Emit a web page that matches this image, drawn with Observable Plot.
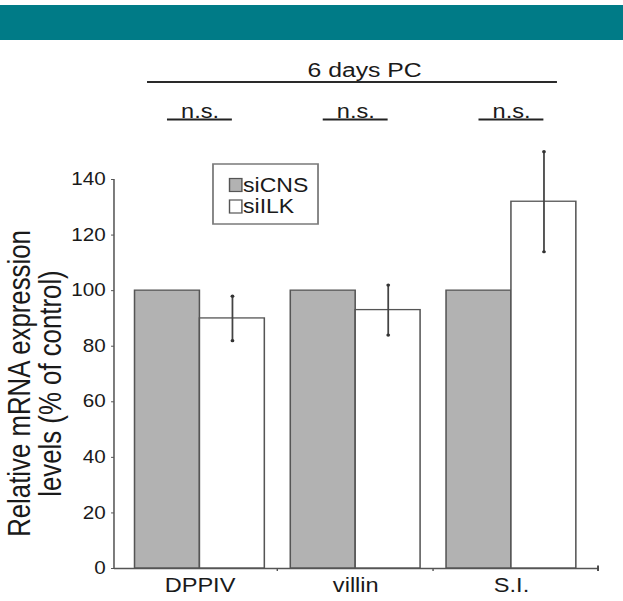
<!DOCTYPE html>
<html><head><meta charset="utf-8">
<script src="https://cdn.jsdelivr.net/npm/d3@7"></script>
<script src="https://cdn.jsdelivr.net/npm/@observablehq/plot@0.6"></script>
<style>
html,body{margin:0;padding:0;background:#fff;overflow:hidden;}
#banner{margin-top:5px;height:35px;width:623px;background:#007b87;}
#chart svg{display:block;transform:scaleX(1.18);transform-origin:0 0;}
</style></head><body>
<div id="banner"></div>
<div id="chart"></div>
<script>
// ---- data ----
const genes = ["DPPIV", "villin", "S.I."];
const groups = ["siCNS", "siILK"];
const siCNS = [100, 100, 100];
const siILK = [90, 93, 132];
const siILKErr = [8, 9, 18];
const yTicks = [0, 20, 40, 60, 80, 100, 120, 140];
const significance = ["n.s.", "n.s.", "n.s."];
const timepoint = "6 days PC";
const yLabel = "Relative mRNA expression\nlevels (% of control)";
const groupColors = ["#b2b2b2", "#ffffff"];

const rows = [];
genes.forEach((g, i) => {
  rows.push({gene: g, group: "siCNS", value: siCNS[i], err: 0});
  rows.push({gene: g, group: "siILK", value: siILK[i], err: siILKErr[i]});
});
const sig = genes.map((g, i) => ({gene: g, label: significance[i]}));

const FONT = "Liberation Sans, Arial, Helvetica, sans-serif";
const INK = "#1a1a1a";

const chart = Plot.plot({
  width: 528,
  height: 561,
  marginTop: 139,
  marginBottom: 33,
  marginLeft: 103,
  marginRight: 29,
  style: {fontFamily: FONT, background: "transparent", color: INK},
  fx: {domain: genes, padding: 0},
  x: {domain: groups, paddingInner: 0, paddingOuter: 0.2, axis: null},
  y: {domain: [0, 140]},
  color: {domain: groups, range: groupColors},
  marks: [
    Plot.barY(rows, {fx: "gene", x: "group", y: "value", fill: "group", stroke: "#555", strokeWidth: 1.3}),
    Plot.ruleY(rows.filter(d => d.group === "siCNS"), {fx: "gene", x: "group", y: 0, stroke: "#111", strokeWidth: 2}),
    Plot.ruleX(rows.filter(d => d.err > 0), {fx: "gene", x: "group", y1: d => d.value - d.err, y2: d => d.value + d.err, stroke: "#444", strokeWidth: 1.5}),
    Plot.dot(rows.filter(d => d.err > 0), {fx: "gene", x: "group", y: d => d.value - d.err, r: 1.6, fill: "#333", stroke: null}),
    Plot.dot(rows.filter(d => d.err > 0), {fx: "gene", x: "group", y: d => d.value + d.err, r: 1.6, fill: "#333", stroke: null}),
    Plot.axisY({ticks: yTicks, tickSize: 2.5, tickPadding: 5, dx: -6.4, fontSize: 17.5, label: null, stroke: "#555"}),
    Plot.axisFx({anchor: "bottom", tickSize: 0, tickPadding: 9, fontSize: 20, label: null}),
    Plot.text([yLabel], {fx: () => genes[0], frameAnchor: "left", textAnchor: "middle", rotate: -90, dx: -73, dy: 9.5, fontSize: 25.8, lineHeight: 1.02, fill: INK}),
    Plot.text(sig, {fx: "gene", text: "label", frameAnchor: "top", lineAnchor: "bottom", dy: -61.3, fontSize: 20, fill: INK})
  ]
});
document.getElementById("chart").appendChild(chart);

// ---- decorations drawn with the chart's own scales ----
const svg = d3.select(chart);
const fx = chart.scale("fx"), xs = chart.scale("x"), ys = chart.scale("y"), cs = chart.scale("color");
const left = fx.apply(genes[0]);
const right = fx.apply(genes[genes.length - 1]) + fx.bandwidth;
const y0 = ys.apply(0), yTop = ys.apply(d3.max(yTicks));
const deco = svg.append("g");
// y axis line
deco.append("line").attr("x1", left - 6.4).attr("x2", left - 6.4).attr("y1", yTop).attr("y2", y0 + 0.5)
  .attr("stroke", "#555").attr("stroke-width", 1.3);
// x axis line
deco.append("line").attr("x1", left - 6.4).attr("x2", right + 7.8).attr("y1", y0 + 0.5).attr("y2", y0 + 0.5)
  .attr("stroke", "#555").attr("stroke-width", 1.3);
genes.slice(1).forEach(g => {
  const xb = fx.apply(g);
  deco.append("line").attr("x1", xb).attr("x2", xb).attr("y1", y0).attr("y2", y0 + 3).attr("stroke", "#555").attr("stroke-width", 1.2);
});
deco.append("line").attr("x1", right + 7.8).attr("x2", right + 7.8).attr("y1", y0 - 2.5).attr("y2", y0 + 3).attr("stroke", "#444").attr("stroke-width", 1.6);
// n.s. underlines
genes.forEach(g => {
  const cx = fx.apply(g) + fx.bandwidth / 2;
  const hw = xs.bandwidth / 2;
  deco.append("line").attr("x1", cx - hw).attr("x2", cx + hw).attr("y1", 79.5).attr("y2", 79.5)
    .attr("stroke", "#222").attr("stroke-width", 2);
});
// time point heading
const mid = (left + right) / 2;
deco.append("line").attr("x1", left + 21.6).attr("x2", right - 27).attr("y1", 42).attr("y2", 42)
  .attr("stroke", "#2a2a2a").attr("stroke-width", 2);
deco.append("text").attr("x", mid + 8).attr("y", 37).attr("text-anchor", "middle")
  .attr("font-family", FONT).attr("font-size", 21).attr("fill", INK).text(timepoint);
// legend
const lg = deco.append("g").attr("font-family", FONT).attr("font-size", 19.5).attr("fill", INK).attr("text-anchor", "start");
lg.append("rect").attr("x", 180.5).attr("y", 124).attr("width", 89).attr("height", 60)
  .attr("fill", "white").attr("stroke", "#7a7a7a").attr("stroke-width", 1.5);
groups.forEach((g, i) => {
  lg.append("rect").attr("x", 194.5).attr("y", 138.5 + i * 21.5).attr("width", 10.5).attr("height", 13)
    .attr("fill", cs.apply(g)).attr("stroke", "#555").attr("stroke-width", 1.2);
  lg.append("text").attr("x", 206).attr("y", 152 + i * 21).attr("text-anchor", "start").text(g);
});
</script>
</body></html>
